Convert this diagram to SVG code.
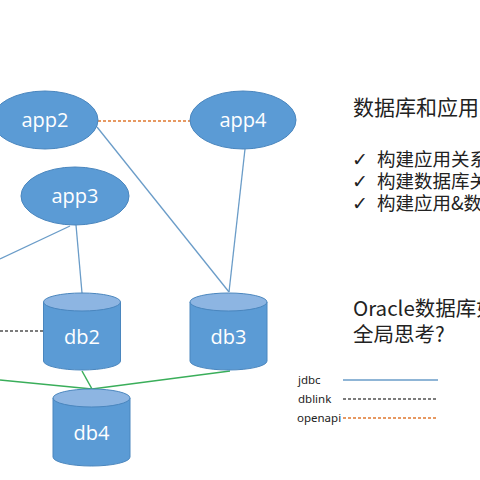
<svg xmlns="http://www.w3.org/2000/svg" width="480" height="480" viewBox="0 0 480 480">
<style>
.node{fill:#5B9BD5;stroke:#4A86BE;stroke-width:1}
.top{fill:#8DB5E2;stroke:#4A86BE;stroke-width:1}
.lbl{font-family:"Open Sans","Liberation Sans",sans-serif;font-size:20px;fill:#fff;text-anchor:middle}
.jdbc{stroke:#6A9CC8;stroke-width:1.3;fill:none}
.dblink{stroke:#505050;stroke-width:1.3;stroke-dasharray:3,2;fill:none}
.openapi{stroke:#E0782F;stroke-width:1.3;stroke-dasharray:3,2;fill:none}
.green{stroke:#3AAE5A;stroke-width:1.5;fill:none}
.cjk{font-family:"Noto Sans CJK SC","Noto Sans",sans-serif;fill:#222}
.chk{font-family:"DejaVu Sans",sans-serif;font-size:19px;font-weight:bold;fill:#222}
.leg{font-family:"Noto Sans","Liberation Sans",sans-serif;font-size:11.5px;fill:#222}
</style>
<rect width="480" height="480" fill="#fff"/>
<g id="connectors">
<line class="openapi" x1="98" y1="121" x2="190" y2="121"/>
<line class="jdbc" x1="97" y1="127" x2="229" y2="292"/>
<line class="jdbc" x1="245" y1="149" x2="229" y2="292"/>
<line class="jdbc" x1="76" y1="225" x2="82" y2="293"/>
<line class="jdbc" x1="70" y1="226" x2="0" y2="259"/>
<line class="dblink" x1="0" y1="331" x2="43" y2="331"/>
<line class="green" x1="0" y1="380" x2="92" y2="389"/>
<line class="green" x1="82" y1="371" x2="92" y2="389"/>
<line class="green" x1="230" y1="371" x2="92" y2="389"/>
</g>
<g id="app2"><ellipse class="node" cx="45" cy="120" rx="53" ry="29"/><text class="lbl" x="45" y="127">app2</text></g>
<g id="app4"><ellipse class="node" cx="243" cy="120" rx="53" ry="29"/><text class="lbl" x="243" y="127">app4</text></g>
<g id="app3"><ellipse class="node" cx="75" cy="196" rx="54" ry="29"/><text class="lbl" x="75" y="203">app3</text></g>
<g id="db2"><path class="node" d="M43.5,302 V361 A38.5,9 0 0 0 120.5,361 V302"/><ellipse class="top" cx="82" cy="302" rx="38.5" ry="9"/><text class="lbl" x="82" y="344">db2</text></g>
<g id="db3"><path class="node" d="M190,302 V361 A38.5,9 0 0 0 267,361 V302"/><ellipse class="top" cx="228.5" cy="302" rx="38.5" ry="9"/><text class="lbl" x="228.5" y="344">db3</text></g>
<g id="db4"><path class="node" d="M53,398 V457 A38.5,9 0 0 0 130,457 V398"/><ellipse class="top" cx="91.5" cy="398" rx="38.5" ry="9"/><text class="lbl" x="91.5" y="440">db4</text></g>
<g id="texts">
<text class="cjk" x="353" y="115" font-size="21">数据库和应用关</text>
<text class="chk" x="352" y="166">✓</text>
<text class="cjk" x="377" y="166" font-size="18.5">构建应用关系</text>
<text class="chk" x="352" y="188">✓</text>
<text class="cjk" x="377" y="188" font-size="18.5">构建数据库关</text>
<text class="chk" x="352" y="210">✓</text>
<text class="cjk" x="377" y="210" font-size="18.5">构建应用&amp;数</text>
<text class="cjk" x="353" y="316" font-size="20.5">Oracle数据库如</text>
<text class="cjk" x="353" y="342" font-size="20.5">全局思考?</text>
</g>
<g id="legend">
<text class="leg" x="298" y="384">jdbc</text>
<text class="leg" x="298" y="403">dblink</text>
<text class="leg" x="297" y="422">openapi</text>
<line class="jdbc" x1="343" y1="380" x2="438" y2="380"/>
<line class="dblink" x1="343" y1="399" x2="438" y2="399"/>
<line class="openapi" x1="343" y1="418" x2="438" y2="418"/>
</g>
</svg>
